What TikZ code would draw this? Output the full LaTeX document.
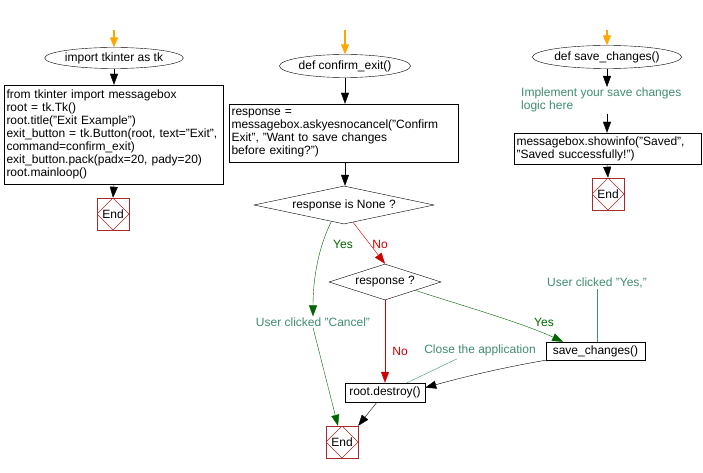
\documentclass[tikz,border=0pt]{standalone}
\usepackage{fontspec}
\setmainfont{Liberation Sans}
\usetikzlibrary{shapes.geometric,arrows.meta,calc}
\definecolor{orng}{RGB}{255,165,0}
\definecolor{cmtc}{RGB}{64,140,110}
\definecolor{yesc}{RGB}{0,100,0}
\definecolor{noc}{RGB}{204,0,0}
\definecolor{endred}{RGB}{165,42,42}
\begin{document}
\begin{tikzpicture}[x=1pt,y=-1pt,
  font=\fontsize{12pt}{13pt}\selectfont,
  tip/.style={-{Triangle[length=11pt,width=8pt]}},
  arr/.style={draw=black, tip},
  orarrow/.style={draw=orng, line width=1.3pt, -{Triangle[length=10pt,width=8pt]}},
  yesarr/.style={draw=yesc, tip},
  noarr/.style={draw=noc, tip},
  startnode/.style={draw, ellipse, inner sep=0pt},
  boxnode/.style={draw, rectangle, align=left, inner xsep=2.5pt, inner ysep=2pt},
  decnode/.style={draw, diamond, inner sep=0pt},
  endnode/.style={draw=endred, rectangle, minimum size=32pt, inner sep=0pt,
    path picture={\draw[endred] (path picture bounding box.north) -- (path picture bounding box.east) -- (path picture bounding box.south) -- (path picture bounding box.west) -- cycle;}},
  cmt/.style={text=cmtc, align=left, inner sep=1pt},
  yeslbl/.style={text=yesc, inner sep=1pt},
  nolbl/.style={text=noc, inner sep=1pt},
  cmtline/.style={draw=cmtc}
]
\useasboundingbox (0,0) rectangle (703,473);

% ---------- left column ----------
\coordinate (o1) at (114,30);
\node[startnode, minimum width=115pt, minimum height=21pt] (s1) at (114,58) {import tkinter as tk};
\node[boxnode, text width=214pt, minimum height=99pt] (c1) at (113.5,134.5)
  {from tkinter import messagebox\\
   root = tk.Tk()\\
   root.title("Exit Example")\\
   \mbox{exit\_button = tk.Button(root, text="Exit",}\\
   command=confirm\_exit)\\
   exit\_button.pack(padx=20, pady=20)\\
   root.mainloop()};
\node[endnode] (e1) at (113,214) {End};
\draw[orarrow] (o1) -- (s1.north);
\draw[arr] (s1.south) -- (s1.south |- c1.north);
\draw[arr] (s1.south |- c1.south) -- (e1.north);

% ---------- middle column ----------
\coordinate (o2) at (345,30);
\node[startnode, minimum width=111pt, minimum height=23pt] (s2) at (345,66) {def confirm\_exit()};
\node[boxnode, text width=224pt, minimum height=58pt] (b2) at (343.5,133)
  {response =\\
   \mbox{messagebox.askyesnocancel("Confirm}\\
   Exit", "Want to save changes\\
   before exiting?")};
\node[decnode, aspect=4.7, minimum width=180pt, minimum height=38pt] (d1) at (344,205) {response is None ?};
\node[decnode, aspect=3, minimum width=112pt, minimum height=36pt] (d2) at (385,282) {response ?};
\node[boxnode, minimum width=80pt, minimum height=19pt, inner ysep=1pt] (de) at (385,392.5) {root.destroy()};
\node[endnode] (e2) at (342,442) {End};
\node[cmt] (lc) at (313,322) {User clicked "Cancel"};
\node[yeslbl] (ly1) at (343,244) {Yes};
\node[nolbl] (ln1) at (380,244) {No};
\node[nolbl] (ln2) at (400,351) {No};
\node[cmt] (lca) at (480,350) {Close the application};

\draw[orarrow] (o2) -- (s2.north);
\draw[arr] (s2.south) -- (s2.south |- b2.north);
\draw[arr] (s2.south |- b2.south) -- (s2.south |- d1.north);

\coordinate (ys) at ($(d1.south)!0.14!(d1.west)$);
\coordinate (ns) at ($(d1.south)!0.1!(d1.east)$);
\draw[yesarr] (ys) .. controls (318,248) and (313,280) .. (lc.north);
\draw[yesarr] (lc.south) -- ($(e2.north)!0.25!(e2.north west)$);
\draw[noarr] (ns) -- (d2.north);
\draw[noarr] (d2.south) -- (de.north);
\draw[arr] ($(de.south)!0.2!(de.south west)$) -- (e2.north east);

% ---------- save_changes ----------
\node[boxnode, minimum width=99pt, minimum height=18pt, inner ysep=1pt] (sv) at (595.5,351) {save\_changes()};
\node[cmt] (luy) at (597,283) {User clicked "Yes,"};
\node[yeslbl] (ly2) at (544,322) {Yes};
\coordinate (y2s) at ($(d2.south)!0.54!(d2.east)$);
\draw[yesarr] (y2s) .. controls (460,305) and (520,322) .. ($(sv.north west)!0.35!(sv.north)$);
\draw[cmtline] (luy.south) -- (luy.south |- sv.north);
\draw[arr] (sv.south west) .. controls (500,368) and (460,378) .. ($(de.north east)!0.5!(de.east)$);
\draw[cmtline] ($(lca.south)+(-23,2)$) -- ($(de.north)+(22,0)$);

% ---------- right column ----------
\coordinate (o3) at (607,30);
\node[startnode, minimum width=123pt, minimum height=23pt] (s3) at (607,57) {def save\_changes()};
\node[cmt, anchor=north west] (cm) at (520,87) {Implement your save changes\\logic here};
\node[boxnode, text width=182pt, minimum height=31pt] (b3) at (607.5,148.5)
  {messagebox.showinfo("Saved",\\
   "Saved successfully!")};
\node[endnode] (e3) at (608,194) {End};
\draw[orarrow] (o3) -- (s3.north);
\draw[arr] (s3.south) -- (s3.south |- cm.north);
\draw[arr] (s3.south |- cm.south) -- (s3.south |- b3.north);
\draw[arr] (s3.south |- b3.south) -- (e3.north);
\end{tikzpicture}
\end{document}
